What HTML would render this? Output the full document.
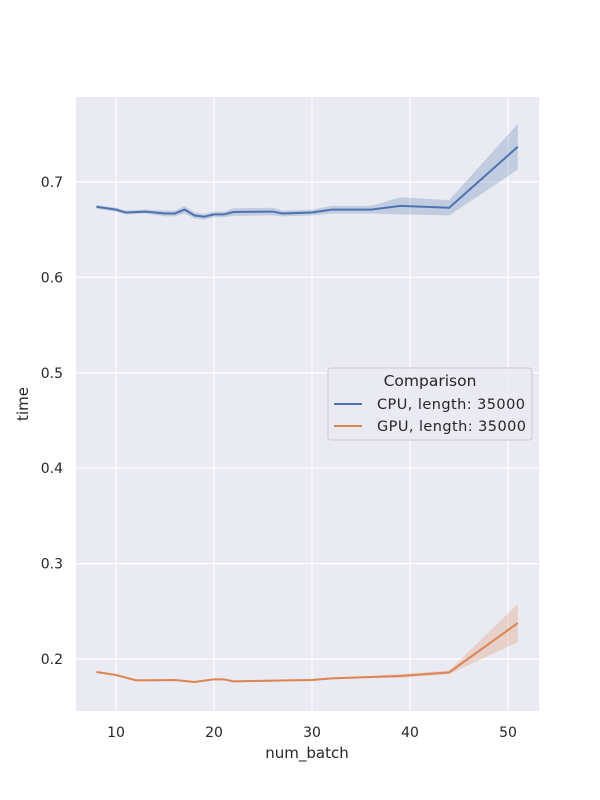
<!DOCTYPE html>
<html><head><meta charset="utf-8"><style>
body{margin:0;background:#fff}
svg{display:block;font-family:"DejaVu Sans","Liberation Sans",sans-serif}
</style></head><body>
<svg id="chart" width="600" height="800">
<rect x="76" y="97" width="463" height="614" fill="#eaeaf2"/>
<g id="grid"></g><g id="bands"></g><g id="lines"></g><g id="ticks"></g>
<text x="307" y="758" text-anchor="middle" font-size="15" fill="#262626">num_batch</text>
<text transform="translate(28,404) rotate(-90)" text-anchor="middle" font-size="15" fill="#262626">time</text>
<g>
<rect x="328" y="368" width="204" height="72" rx="3" fill="#eaeaf2" fill-opacity="0.8" stroke="#cccccc"/>
<text x="430" y="386" text-anchor="middle" font-size="15.5" fill="#262626">Comparison</text>
<line x1="334" y1="404" x2="362" y2="404" stroke="#4c72b0" stroke-width="2"/>
<text x="377" y="409" font-size="14.5" textLength="148" fill="#262626">CPU, length: 35000</text>
<line x1="334" y1="426" x2="362" y2="426" stroke="#dd8452" stroke-width="2"/>
<text x="377" y="431" font-size="14.5" textLength="149" fill="#262626">GPU, length: 35000</text>
</g>
</svg>
<script>
const xs=[8,10,11,13,15,16,17,18,19,20,21,22,26,27,30,32,36,39,44,51];
const cpu=[0.674,0.671,0.668,0.669,0.667,0.667,0.671,0.665,0.6636,0.666,0.666,0.6685,0.669,0.667,0.668,0.671,0.671,0.675,0.673,0.737];
const cpuErr=[0.002,0.002,0.002,0.002,0.003,0.003,0.004,0.003,0.003,0.003,0.003,0.004,0.004,0.003,0.003,0.004,0.004,0.009,0.008,0.024];
const gx=[8,10,12,14,16,18,20,21,22,26,30,32,36,39,44,51];
const gpu=[0.1864,0.1832,0.1777,0.1777,0.178,0.1759,0.1787,0.1787,0.1766,0.1773,0.178,0.1797,0.1811,0.1822,0.186,0.2377];
const gpuErr=[0.001,0.001,0.001,0.001,0.001,0.001,0.001,0.001,0.001,0.001,0.001,0.001,0.001,0.002,0.002,0.02];
const xTicks=[10,20,30,40,50];
const yTicks=[0.2,0.3,0.4,0.5,0.6,0.7];
const NS="http://www.w3.org/2000/svg";
const X=v=>116+(v-10)*9.8;
const Y=v=>659-(v-0.2)*954;
function mk(tag,attrs,parent){const e=document.createElementNS(NS,tag);for(const k in attrs)e.setAttribute(k,attrs[k]);document.getElementById(parent).appendChild(e);return e;}
xTicks.forEach(t=>{
 const l=mk('line',{x1:X(t),x2:X(t),y1:97,y2:711,stroke:'#fff','stroke-width':1.2},'grid');
 
 
 const tx=mk('text',{x:X(t),y:737,'text-anchor':'middle','font-size':14,fill:'#262626'},'ticks');
 tx.textContent=t;
 
 
});
yTicks.forEach(t=>{
 const l=mk('line',{x1:76,x2:539,y1:Y(t),y2:Y(t),stroke:'#fff','stroke-width':1.2},'grid');
 
 
 const tx=mk('text',{x:63,y:Y(t)+5,'text-anchor':'end','font-size':14,fill:'#262626'},'ticks');
 tx.textContent=t.toFixed(1);
 
 
});
function series(xv,yv,ev,color,name){
 let up=xv.map((x,i)=>X(x)+','+Y(yv[i]+ev[i]));
 let dn=xv.map((x,i)=>X(x)+','+Y(yv[i]-ev[i])).reverse();
 const b=mk('polygon',{points:up.concat(dn).join(' '),fill:color,'fill-opacity':0.25},'bands');
 
 
 const l=mk('polyline',{points:xv.map((x,i)=>X(x)+','+Y(yv[i])).join(' '),fill:'none',stroke:color,'stroke-width':2},'lines');
 
 
}
series(xs,cpu,cpuErr,'#4c72b0','cpu');
series(gx,gpu,gpuErr,'#dd8452','gpu');
</script>
</body></html>
